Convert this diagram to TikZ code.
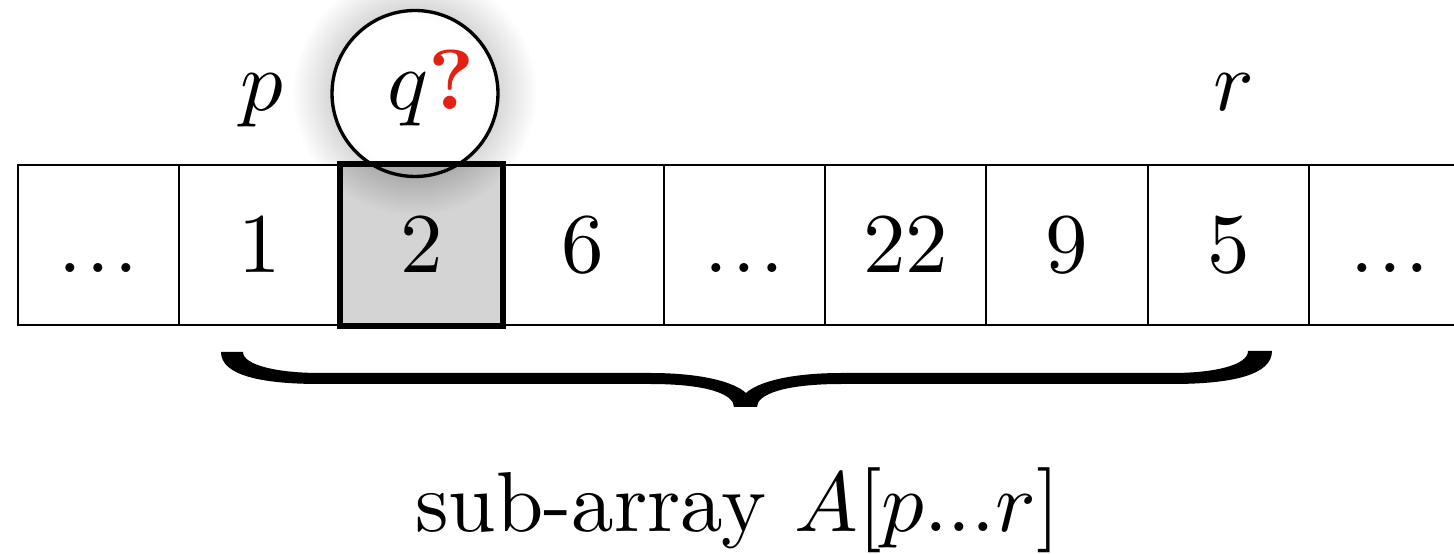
\RequirePackage{fix-cm}
\documentclass[tikz,border=0pt]{standalone}
\DeclareFontShape{OML}{cmm}{m}{it}{<-> cmmi10}{}
\DeclareFontShape{OT1}{cmr}{m}{n}{<-> cmr10}{}
\font\bigrm="[lmroman10-regular.otf]" at 48.4pt
\font\bigbf="[lmroman10-bold.otf]" at 48.4pt
\definecolor{qred}{RGB}{228,32,18}
\definecolor{cellgray}{RGB}{212,212,212}
\pgfdeclareradialshading{ballin}{\pgfpoint{0bp}{0bp}}{color(0bp)=(white); color(22bp)=(white); color(50bp)=(black!14)}
\newcommand\mydots{.\kern.05em.\kern.05em.}
\begin{document}
\begin{tikzpicture}[x=0.02cm,y=0.02cm,
  every node/.style={font=\fontsize{48.4}{58}\selectfont\bigrm},
  cell/.style={draw, line width=1.1pt, fill=white, minimum width=3.228cm, minimum height=3.2cm,
    inner sep=0pt, text height=1.1cm, text depth=0pt, anchor=center},
  hot/.style={cell, fill=cellgray, line width=2.2pt},
  lab/.style={inner sep=0pt, anchor=base},
  glow/.style={black, opacity=0.009}]
\useasboundingbox (0,0) rectangle (1454,554);
\clip (0,0) rectangle (1454,554);
\coordinate (C) at (415,460.5);
% glow around the circle
\foreach \i in {1,...,20} \fill[glow] (C) circle [radius={(82+2*\i)*0.02cm}];
\shade[shading=ballin] (C) circle [radius=1.66cm];
% array cells
\node[cell] (c0) at (98.7,309)   {\mydots};
\node[cell] (c1) at (260.1,309)  {1};
\node[cell] (c3) at (582.9,309)  {6};
\node[cell] (c4) at (744.3,309)  {\mydots};
\node[cell] (c5) at (905.7,309)  {22};
\node[cell] (c6) at (1067.1,309) {9};
\node[cell] (c7) at (1228.5,309) {5};
\node[cell] (c8) at (1389.9,309) {\mydots};
\node[hot]  (c2) at (421.5,309)  {2};
\begin{scope}
  \clip (c2.south west) rectangle (c2.north east);
  \foreach \i in {1,...,20} \fill[glow] (C) circle [radius={(82+2*\i)*0.02cm}];
\end{scope}
\draw[line width=2.2pt] (c2.south west) rectangle (c2.north east);
% circle outline
\draw[line width=1.9pt] (C) circle [radius=1.66cm];
% labels
\node[lab] (p) at (261.5,443) {$p$};
\node[lab, anchor=base west] (q) at (387,444) {$q$\textcolor{qred}{\bigbf ?}};
\node[lab] (r) at (1234,443) {$r$};
% brace
\fill (221,202) .. controls (221,179) and (260,170) .. (320,170) -- (650,170)
  .. controls (710,170) and (734,159) .. (734,147) -- (757,147)
  .. controls (757,159) and (782,170) .. (842,170) -- (1172,170)
  .. controls (1232,170) and (1272,179) .. (1272,203) -- (1248,203)
  .. controls (1248,189) and (1215,181) .. (1172,181) -- (842,181)
  .. controls (790,181) and (758,172) .. (746,161)
  .. controls (734,172) and (702,181) .. (650,181) -- (320,181)
  .. controls (277,181) and (243,189) .. (243,202) -- cycle;
\node[lab] (cap) at (737.5,22) {sub-array $A[p...r]$};
\end{tikzpicture}
\end{document}
